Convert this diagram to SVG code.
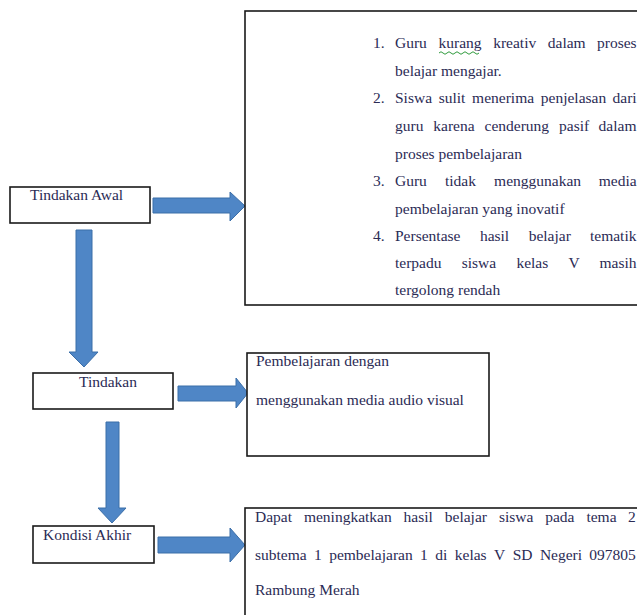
<svg xmlns="http://www.w3.org/2000/svg" width="637" height="615" viewBox="0 0 637 615">
<style>
.box{fill:#fff;stroke:#1a1a1a;stroke-width:1.6}
.arr{fill:#4f86c6;stroke:#3b6ea8;stroke-width:1}
.t{font-family:"Liberation Serif","Times New Roman",serif;font-size:15.5px;fill:#2b2b55}
</style>
<rect width="637" height="615" fill="#fff"/>
<g id="connectors">
<path class="arr" d="M153,198 H230 V192 L245,206 L230,221 V213 H153 Z"/>
<path class="arr" d="M178,386 H236 V378 L248,393 L236,408 V401 H178 Z"/>
<path class="arr" d="M158,537 H230 V528 L245,545 L230,562 V553 H158 Z"/>
<path class="arr" d="M76,230 H92 V352 H98 L84,367 L69,352 H76 Z"/>
<path class="arr" d="M106,422 H119 V508 H126 L112,523 L98,508 H106 Z"/>
</g>
<g id="node-masalah">
<rect class="box" x="245" y="11" width="400" height="294"/>
<text class="t" y="48"><tspan x="373">1.</tspan><tspan x="395">Guru</tspan><tspan x="438.5">kurang</tspan><tspan x="493.2">kreativ</tspan><tspan x="547.8">dalam</tspan><tspan x="597">proses</tspan></text>
<path d="M439,53 q2,-2.5 4,0 t4,0 t4,0 t4,0 t4,0 t4,0 t4,0 t4,0 t4,0 t4,0" fill="none" stroke="#2e9a3c" stroke-width="1"/>
<text class="t" x="395" y="76">belajar mengajar.</text>
<text class="t" y="103"><tspan x="373">2.</tspan><tspan x="395">Siswa</tspan><tspan x="438.7">sulit</tspan><tspan x="472.1">menerima</tspan><tspan x="540.8">penjelasan</tspan><tspan x="612.5">dari</tspan></text>
<text class="t" y="131"><tspan x="395">guru</tspan><tspan x="433.3">karena</tspan><tspan x="484.5">cenderung</tspan><tspan x="559">pasif</tspan><tspan x="598.6">dalam</tspan></text>
<text class="t" x="395" y="159">proses pembelajaran</text>
<text class="t" y="186"><tspan x="373">3.</tspan><tspan x="395">Guru</tspan><tspan x="445">tidak</tspan><tspan x="494.1">menggunakan</tspan><tspan x="598.8">media</tspan></text>
<text class="t" x="395" y="214">pembelajaran yang inovatif</text>
<text class="t" y="241"><tspan x="373">4.</tspan><tspan x="395">Persentase</tspan><tspan x="479.9">hasil</tspan><tspan x="528.7">belajar</tspan><tspan x="590">tematik</tspan></text>
<text class="t" y="268"><tspan x="395">terpadu</tspan><tspan x="461.7">siswa</tspan><tspan x="516.4">kelas</tspan><tspan x="568.5">V</tspan><tspan x="599.5">masih</tspan></text>
<text class="t" x="395" y="295">tergolong rendah</text>
</g>
<g id="node-tindakan-awal">
<rect class="box" x="10" y="187" width="140" height="36"/>
<text class="t" x="30" y="200">Tindakan Awal</text>
</g>
<g id="node-tindakan">
<rect class="box" x="33" y="373" width="140" height="36"/>
<text class="t" x="79" y="387">Tindakan</text>
</g>
<g id="node-media">
<rect class="box" x="247" y="353" width="242" height="103"/>
<text class="t" x="256" y="366">Pembelajaran dengan</text>
<text class="t" x="256" y="405">menggunakan media audio visual</text>
</g>
<g id="node-kondisi-akhir">
<rect class="box" x="33" y="526" width="121" height="37"/>
<text class="t" x="43" y="540">Kondisi Akhir</text>
</g>
<g id="node-hasil">
<rect class="box" x="245" y="508" width="400" height="120"/>
<text class="t" y="522"><tspan x="255">Dapat</tspan><tspan x="303.9">meningkatkan</tspan><tspan x="403.6">hasil</tspan><tspan x="444.8">belajar</tspan><tspan x="498.9">siswa</tspan><tspan x="545.2">pada</tspan><tspan x="586.4">tema</tspan><tspan x="628">2</tspan></text>
<text class="t" y="560"><tspan x="255">subtema</tspan><tspan x="314.1">1</tspan><tspan x="329.2">pembelajaran</tspan><tspan x="420.1">1</tspan><tspan x="435.3">di</tspan><tspan x="454.8">kelas</tspan><tspan x="494.1">V</tspan><tspan x="512.7">SD</tspan><tspan x="539.9">Negeri</tspan><tspan x="589.2">097805</tspan></text>
<text class="t" x="255" y="595">Rambung Merah</text>
</g>
</svg>
